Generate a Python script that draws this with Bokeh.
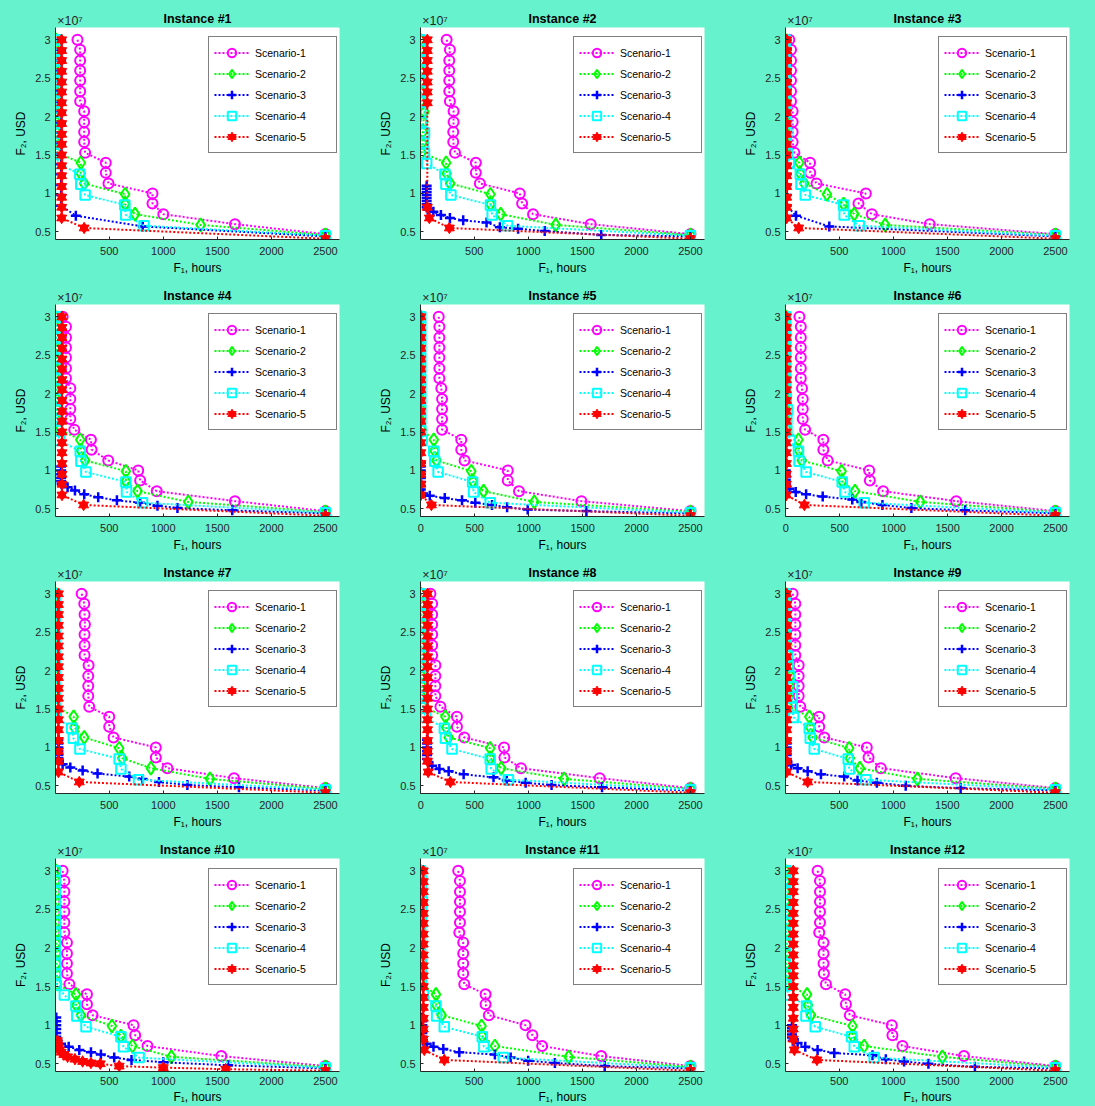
from bokeh.plotting import figure
from bokeh.layouts import gridplot
from bokeh.models import Legend, LegendItem, FixedTicker, Range1d, LinearAxis
from bokeh.embed import file_html
from bokeh.resources import INLINE

SCENARIOS = ["Scenario-1", "Scenario-2", "Scenario-3", "Scenario-4", "Scenario-5"]
X_TICKS = [0, 500, 1000, 1500, 2000, 2500]
Y_TICKS = [0.5, 1, 1.5, 2, 2.5, 3]
Y_TICK_LABELS = ["0.5", "1", "1.5", "2", "2.5", "3"]
X_LABEL = "F\u2081, hours"
Y_LABEL = "F\u2082, USD"
Y_EXPONENT = "\u00d710\u2077"

# F2 levels (x 10^7 USD) per scenario
Y_S1 = [3.0, 2.87, 2.73, 2.6, 2.47, 2.33, 2.2, 2.07, 1.93, 1.8, 1.67, 1.53, 1.4, 1.27, 1.13, 1.0, 0.87, 0.73, 0.6, 0.47]
Y_S2 = [3.0, 2.87, 2.73, 2.6, 2.46, 2.33, 2.2, 2.06, 1.93, 1.8, 1.66, 1.53, 1.4, 1.26, 1.13, 0.99, 0.86, 0.73, 0.59, 0.46]
Y_S3 = [3.0, 2.87, 2.73, 2.6, 2.46, 2.33, 2.19, 2.06, 1.92, 1.79, 1.65, 1.52, 1.38, 1.25, 1.11, 0.98, 0.84, 0.71, 0.57, 0.44]
Y_S4 = [3.0, 2.87, 2.73, 2.6, 2.46, 2.33, 2.19, 2.06, 1.93, 1.79, 1.66, 1.52, 1.39, 1.25, 1.12, 0.98, 0.85, 0.72, 0.58, 0.45]
Y_S5 = [3.0, 2.86, 2.73, 2.59, 2.45, 2.32, 2.18, 2.05, 1.91, 1.77, 1.64, 1.5, 1.36, 1.23, 1.09, 0.95, 0.82, 0.68, 0.55, 0.41]

# ---- Instance 1 (F1 hours)
I1_S1_X = [206, 231, 231, 231, 231, 231, 231, 268, 268, 268, 268, 277, 468, 468, 493, 900, 900, 1000, 1663, 2500]
I1_S2_X = [6, 8, 8, 6, 6, 8, 8, 10, 10, 10, 12, 15, 237, 237, 268, 647, 647, 739, 1346, 2500]
I1_S3_X = [55, 55, 55, 55, 55, 55, 55, 55, 55, 55, 55, 55, 55, 55, 55, 55, 55, 191, 810, 2500]
I1_S3_Y = Y_S3
I1_S4_X = [15, 15, 20, 15, 15, 15, 15, 20, 20, 20, 20, 20, 25, 228, 237, 277, 644, 653, 822, 2500]
I1_S5_X = [60, 60, 60, 60, 60, 60, 60, 60, 60, 60, 60, 60, 60, 60, 60, 60, 60, 60, 268, 2500]
I1_S5_Y = Y_S5
# ---- Instance 2
I2_S1_X = [245, 275, 269, 269, 269, 269, 275, 309, 309, 306, 306, 322, 515, 515, 552, 921, 943, 1044, 1577, 2500]
I2_S2_X = [0, 3, 5, 5, 5, 8, 10, 40, 30, 25, 20, 15, 240, 245, 277, 650, 650, 745, 1254, 2500]
I2_S3_X = [60, 60, 60, 60, 60, 60, 60, 60, 70, 122, 192, 275, 398, 614, 737, 906, 1152, 1675, 2500]
I2_S3_Y = [1.1, 1.06, 1.02, 0.98, 0.94, 0.9, 0.86, 0.82, 0.79, 0.76, 0.72, 0.68, 0.65, 0.62, 0.56, 0.54, 0.51, 0.46, 0.44]
I2_S4_X = [0, 3, 3, 3, 3, 5, 5, 5, 10, 40, 30, 40, 60, 229, 238, 284, 650, 666, 808, 2500]
I2_S5_X = [66, 66, 66, 66, 66, 66, 66, 66, 85, 270, 2500]
I2_S5_Y = [3.0, 2.86, 2.73, 2.59, 2.45, 2.32, 2.18, 0.82, 0.68, 0.55, 0.41]
# ---- Instance 3
I3_S1_X = [38, 54, 54, 54, 54, 54, 54, 69, 69, 69, 69, 85, 230, 232, 290, 746, 678, 802, 1337, 2500]
I3_S2_X = [0, 0, 0, 0, 0, 0, 3, 3, 3, 5, 5, 10, 131, 140, 177, 386, 540, 639, 925, 2500]
I3_S3_X = [14, 14, 14, 14, 14, 14, 14, 14, 14, 14, 14, 14, 14, 14, 14, 14, 14, 100, 408, 2500]
I3_S3_Y = Y_S3
I3_S4_X = [0, 0, 0, 2, 2, 5, 10, 10, 12, 15, 10, 20, 38, 140, 146, 186, 540, 546, 685, 2500]
I3_S5_X = [14, 14, 14, 14, 14, 14, 14, 14, 14, 14, 14, 14, 14, 14, 14, 14, 14, 14, 125, 2500]
I3_S5_Y = Y_S5
# ---- Instance 4
I4_S1_X = [69, 100, 100, 100, 100, 100, 100, 140, 140, 140, 140, 177, 331, 337, 491, 768, 786, 940, 1663, 2500]
I4_S2_X = [0, 3, 5, 8, 10, 10, 10, 12, 12, 15, 15, 40, 232, 238, 277, 654, 654, 762, 1232, 2500]
I4_S3_X = [55, 55, 55, 55, 55, 60, 115, 183, 269, 398, 571, 786, 946, 1131, 1638, 2500]
I4_S3_Y = [1.05, 1.0, 0.95, 0.9, 0.86, 0.82, 0.78, 0.74, 0.69, 0.65, 0.61, 0.58, 0.54, 0.51, 0.48, 0.44]
I4_S4_X = [5, 5, 5, 3, 3, 3, 3, 3, 5, 5, 10, 20, 40, 232, 238, 284, 654, 660, 808, 2500]
I4_S5_X = [63, 63, 63, 63, 63, 63, 63, 63, 63, 63, 63, 63, 63, 63, 63, 63, 63, 63, 263, 2500]
I4_S5_Y = Y_S5
# ---- Instance 5
I5_S1_X = [166, 172, 172, 172, 172, 172, 172, 190, 197, 197, 197, 197, 375, 375, 406, 806, 806, 910, 1489, 2500]
I5_S2_X = [0, 0, 0, 0, 0, 0, 0, 0, 0, 0, 0, 10, 120, 126, 145, 468, 483, 582, 1052, 2500]
I5_S3_X = [0, 0, 0, 0, 0, 0, 0, 0, 20, 83, 222, 382, 505, 660, 800, 991, 1535, 2500]
I5_S3_Y = [1.1, 1.05, 1.0, 0.95, 0.9, 0.85, 0.8, 0.75, 0.7, 0.67, 0.64, 0.61, 0.58, 0.55, 0.52, 0.49, 0.47, 0.44]
I5_S4_X = [0, 0, 0, 0, 0, 0, 0, 0, 0, 0, 0, 0, 12, 120, 129, 160, 480, 489, 643, 2500]
I5_S5_X = [0, 0, 0, 0, 0, 0, 0, 0, 0, 0, 0, 0, 0, 0, 0, 0, 0, 0, 98, 2500]
I5_S5_Y = Y_S5
# ---- Instance 6
I6_S1_X = [126, 139, 139, 139, 139, 139, 139, 150, 157, 157, 157, 179, 348, 348, 388, 773, 779, 902, 1580, 2500]
I6_S2_X = [0, 0, 0, 0, 0, 0, 0, 0, 0, 0, 0, 10, 117, 123, 148, 517, 523, 641, 1247, 2500]
I6_S3_X = [0, 0, 0, 0, 0, 5, 34, 92, 188, 342, 616, 700, 896, 1164, 1663, 2500]
I6_S3_Y = [1.0, 0.96, 0.92, 0.88, 0.84, 0.8, 0.76, 0.72, 0.69, 0.66, 0.62, 0.59, 0.55, 0.51, 0.48, 0.44]
I6_S4_X = [0, 0, 0, 0, 0, 0, 0, 0, 5, 15, 10, 10, 40, 117, 123, 188, 523, 548, 727, 2500]
I6_S5_X = [5, 5, 5, 5, 5, 5, 5, 5, 5, 5, 5, 5, 5, 5, 5, 5, 5, 5, 172, 2500]
I6_S5_Y = Y_S5
# ---- Instance 7
I7_S1_X = [245, 269, 272, 275, 272, 272, 272, 309, 306, 306, 306, 315, 500, 500, 540, 931, 931, 1038, 1654, 2500]
I7_S2_X = [0, 0, 0, 0, 0, 0, 0, 5, 10, 10, 10, 15, 171, 178, 269, 592, 620, 885, 1432, 2500]
I7_S3_X = [30, 30, 30, 30, 30, 30, 30, 69, 140, 254, 392, 685, 808, 960, 1223, 1700, 2500]
I7_S3_Y = [1.1, 1.05, 1.0, 0.95, 0.9, 0.86, 0.82, 0.78, 0.74, 0.7, 0.66, 0.62, 0.59, 0.55, 0.51, 0.48, 0.44]
I7_S4_X = [0, 0, 0, 0, 0, 0, 0, 0, 0, 0, 0, 0, 10, 152, 168, 229, 592, 608, 771, 2500]
I7_S5_X = [30, 30, 30, 30, 30, 30, 30, 30, 30, 30, 30, 30, 30, 30, 30, 30, 30, 30, 223, 2500]
I7_S5_Y = Y_S5
# ---- Instance 8
I8_S1_X = [89, 105, 105, 105, 105, 105, 105, 135, 135, 135, 135, 182, 335, 335, 403, 772, 775, 929, 1658, 2500]
I8_S2_X = [0, 3, 5, 5, 5, 5, 5, 5, 8, 10, 10, 20, 228, 235, 258, 643, 643, 745, 1329, 2500]
I8_S3_X = [58, 58, 58, 58, 58, 58, 70, 105, 172, 258, 397, 674, 797, 972, 1212, 1680, 2500]
I8_S3_Y = [1.1, 1.05, 1.0, 0.95, 0.9, 0.85, 0.8, 0.76, 0.72, 0.69, 0.65, 0.61, 0.57, 0.54, 0.51, 0.48, 0.44]
I8_S4_X = [0, 0, 3, 3, 3, 3, 5, 5, 5, 5, 10, 20, 43, 218, 228, 289, 643, 652, 812, 2500]
I8_S5_X = [62, 62, 62, 62, 62, 62, 62, 62, 62, 62, 62, 62, 62, 62, 62, 62, 62, 68, 274, 2500]
I8_S5_Y = Y_S5
# ---- Instance 9
I9_S1_X = [69, 94, 94, 94, 94, 94, 94, 125, 125, 125, 125, 140, 315, 315, 362, 755, 771, 885, 1577, 2500]
I9_S2_X = [0, 3, 5, 10, 15, 20, 30, 38, 48, 40, 35, 30, 223, 232, 254, 592, 598, 691, 1223, 2500]
I9_S3_X = [14, 14, 14, 14, 14, 14, 20, 54, 115, 208, 331, 546, 669, 848, 1115, 1623, 2500]
I9_S3_Y = [1.1, 1.05, 1.0, 0.95, 0.9, 0.85, 0.81, 0.77, 0.73, 0.69, 0.65, 0.62, 0.57, 0.54, 0.5, 0.47, 0.44]
I9_S4_X = [0, 0, 0, 3, 5, 10, 20, 30, 40, 69, 66, 63, 78, 223, 232, 269, 583, 592, 746, 2500]
I9_S5_X = [14, 14, 14, 14, 14, 14, 14, 14, 14, 14, 14, 14, 14, 14, 14, 14, 14, 14, 208, 2500]
I9_S5_Y = Y_S5
# ---- Instance 10
I10_S1_X = [69, 85, 85, 85, 85, 85, 85, 109, 109, 109, 109, 131, 294, 294, 346, 725, 740, 854, 1537, 2500]
I10_S2_X = [8, 10, 10, 10, 10, 10, 10, 10, 12, 12, 15, 20, 192, 195, 238, 525, 608, 715, 1075, 2500]
I10_S3_X = [10, 10, 10, 10, 10, 10, 20, 54, 125, 223, 331, 423, 546, 706, 1000, 1600, 2500]
I10_S3_Y = [1.1, 1.05, 1.0, 0.95, 0.9, 0.85, 0.8, 0.76, 0.72, 0.68, 0.65, 0.62, 0.58, 0.55, 0.52, 0.48, 0.44]
I10_S4_X = [0, 0, 0, 0, 0, 0, 0, 0, 3, 3, 5, 10, 85, 192, 200, 285, 608, 632, 777, 2500]
I10_S5_X = [20, 22, 25, 30, 40, 55, 80, 115, 183, 254, 331, 417, 592, 1000, 1577, 2500]
I10_S5_Y = [0.8, 0.77, 0.74, 0.71, 0.68, 0.65, 0.62, 0.59, 0.56, 0.53, 0.51, 0.5, 0.47, 0.45, 0.43, 0.41]
# ---- Instance 11
I11_S1_X = [352, 368, 368, 368, 368, 368, 362, 398, 398, 398, 398, 408, 605, 605, 635, 974, 1038, 1128, 1675, 2500]
I11_S2_X = [0, 0, 0, 0, 0, 0, 0, 0, 0, 0, 0, 15, 146, 150, 198, 568, 574, 691, 1374, 2500]
I11_S3_X = [20, 20, 20, 20, 20, 20, 25, 60, 123, 214, 362, 691, 837, 999, 1246, 1707, 2500]
I11_S3_Y = [1.1, 1.05, 1.0, 0.95, 0.9, 0.85, 0.8, 0.76, 0.72, 0.69, 0.65, 0.62, 0.58, 0.54, 0.51, 0.47, 0.44]
I11_S4_X = [5, 14, 12, 20, 15, 10, 5, 5, 5, 10, 10, 15, 30, 146, 152, 223, 574, 589, 768, 2500]
I11_S5_X = [29, 29, 29, 29, 29, 29, 29, 29, 29, 29, 29, 29, 29, 29, 29, 29, 29, 38, 223, 2500]
I11_S5_Y = Y_S5
# ---- Instance 12
I12_S1_X = [300, 322, 322, 322, 322, 322, 315, 355, 355, 355, 358, 377, 555, 562, 598, 986, 992, 1085, 1654, 2500]
I12_S2_X = [0, 0, 0, 0, 3, 5, 10, 15, 15, 12, 10, 10, 202, 210, 238, 623, 623, 731, 1454, 2500]
I12_S3_X = [63, 63, 63, 63, 63, 70, 115, 186, 300, 454, 808, 931, 1100, 1325, 1755, 2500]
I12_S3_Y = [1.0, 0.96, 0.92, 0.88, 0.84, 0.8, 0.77, 0.72, 0.68, 0.64, 0.61, 0.56, 0.53, 0.5, 0.46, 0.44]
I12_S4_X = [8, 8, 5, 5, 10, 8, 5, 5, 3, 3, 5, 10, 30, 198, 192, 278, 614, 639, 823, 2500]
I12_S5_X = [75, 75, 75, 75, 75, 75, 75, 75, 75, 75, 75, 75, 75, 75, 75, 75, 75, 85, 294, 2500]
I12_S5_Y = Y_S5

SHOW_ZERO = [5, 6, 8]

PANELS = [
    (1, [(I1_S1_X, Y_S1), (I1_S2_X, Y_S2), (I1_S3_X, I1_S3_Y), (I1_S4_X, Y_S4), (I1_S5_X, I1_S5_Y)]),
    (2, [(I2_S1_X, Y_S1), (I2_S2_X, Y_S2), (I2_S3_X, I2_S3_Y), (I2_S4_X, Y_S4), (I2_S5_X, I2_S5_Y)]),
    (3, [(I3_S1_X, Y_S1), (I3_S2_X, Y_S2), (I3_S3_X, I3_S3_Y), (I3_S4_X, Y_S4), (I3_S5_X, I3_S5_Y)]),
    (4, [(I4_S1_X, Y_S1), (I4_S2_X, Y_S2), (I4_S3_X, I4_S3_Y), (I4_S4_X, Y_S4), (I4_S5_X, I4_S5_Y)]),
    (5, [(I5_S1_X, Y_S1), (I5_S2_X, Y_S2), (I5_S3_X, I5_S3_Y), (I5_S4_X, Y_S4), (I5_S5_X, I5_S5_Y)]),
    (6, [(I6_S1_X, Y_S1), (I6_S2_X, Y_S2), (I6_S3_X, I6_S3_Y), (I6_S4_X, Y_S4), (I6_S5_X, I6_S5_Y)]),
    (7, [(I7_S1_X, Y_S1), (I7_S2_X, Y_S2), (I7_S3_X, I7_S3_Y), (I7_S4_X, Y_S4), (I7_S5_X, I7_S5_Y)]),
    (8, [(I8_S1_X, Y_S1), (I8_S2_X, Y_S2), (I8_S3_X, I8_S3_Y), (I8_S4_X, Y_S4), (I8_S5_X, I8_S5_Y)]),
    (9, [(I9_S1_X, Y_S1), (I9_S2_X, Y_S2), (I9_S3_X, I9_S3_Y), (I9_S4_X, Y_S4), (I9_S5_X, I9_S5_Y)]),
    (10, [(I10_S1_X, Y_S1), (I10_S2_X, Y_S2), (I10_S3_X, I10_S3_Y), (I10_S4_X, Y_S4), (I10_S5_X, I10_S5_Y)]),
    (11, [(I11_S1_X, Y_S1), (I11_S2_X, Y_S2), (I11_S3_X, I11_S3_Y), (I11_S4_X, Y_S4), (I11_S5_X, I11_S5_Y)]),
    (12, [(I12_S1_X, Y_S1), (I12_S2_X, Y_S2), (I12_S3_X, I12_S3_Y), (I12_S4_X, Y_S4), (I12_S5_X, I12_S5_Y)]),
]

BG = "#66F2CC"
AX = "#262626"
FONT = "Liberation Sans"
COLORS = ["#FF00FF", "#00FF00", "#0000FF", "#00FFFF", "#FF0000"]

W = 365
ML, MR, MT = 55, 26, 27
FW = W - ML - MR
FH = 213
X_END = 2630
Y_START, Y_END = 0.40, 3.16


def make_panel(num, series):
    last_row = num > 9
    h = 275 if last_row else 277
    mb = h - MT - FH
    x0 = -3 if num in SHOW_ZERO else 3
    p = figure(width=W, height=h, output_backend="svg", toolbar_location=None,
               x_range=Range1d(x0, X_END), y_range=Range1d(Y_START, Y_END),
               min_border_left=ML, min_border_right=MR, min_border_top=MT, min_border_bottom=mb)
    p.background_fill_color = "white"
    p.border_fill_color = BG
    p.outline_line_color = None
    p.xgrid.visible = False
    p.ygrid.visible = False
    p.title.visible = False

    p.xaxis.ticker = FixedTicker(ticks=X_TICKS)
    p.yaxis.ticker = FixedTicker(ticks=Y_TICKS)
    p.yaxis.major_label_overrides = {t: l for t, l in zip(Y_TICKS, Y_TICK_LABELS)}
    for ax in (p.xaxis, p.yaxis):
        ax.axis_line_color = AX
        ax.major_tick_line_color = AX
        ax.major_tick_in = 3
        ax.major_tick_out = 0
        ax.minor_tick_line_color = None
        ax.major_label_text_font = FONT
        ax.major_label_text_font_size = "11px"
        ax.major_label_text_color = AX
        ax.axis_label_text_font = FONT
        ax.axis_label_text_font_size = "12px"
        ax.axis_label_text_font_style = "normal"
        ax.axis_label_text_color = "black"
    p.xaxis.major_label_standoff = 5 if last_row else 7
    p.yaxis.major_label_standoff = 5
    p.xaxis.axis_label = X_LABEL
    p.xaxis.axis_label_standoff = 2 if last_row else 3
    p.yaxis.axis_label = Y_LABEL
    p.yaxis.axis_label_standoff = 4

    # top: exponent marker (as a tick label) and the panel title (as the axis label)
    x_exp = x0 + 14.5 * (X_END - x0) / FW
    top = LinearAxis(ticker=FixedTicker(ticks=[x_exp]), major_label_overrides={x_exp: Y_EXPONENT},
                     axis_line_color=None, major_tick_line_color=None, minor_tick_line_color=None,
                     major_tick_in=0, major_tick_out=0, major_label_standoff=0,
                     major_label_text_font=FONT, major_label_text_font_size="12.5px",
                     major_label_text_color=AX,
                     axis_label=f"Instance #{num}", axis_label_text_font=FONT,
                     axis_label_text_font_size="12.5px", axis_label_text_font_style="bold",
                     axis_label_text_color="black", axis_label_standoff=-15)
    p.add_layout(top, "above")

    items = []
    for k, (xs, ys) in enumerate(series):
        c = COLORS[k]
        rl = p.line(xs, ys, line_color=c, line_width=2, line_dash="2 2")
        rends = [rl]
        if k == 0:
            rends.append(p.scatter(xs, ys, marker="circle", size=10, line_color=c, fill_color=None, line_width=2))
        elif k == 1:
            rends.append(p.scatter(xs, ys, marker="diamond", size=13, line_color=c, fill_color=None, line_width=2))
        elif k == 2:
            rends.append(p.scatter(xs, ys, marker="cross", size=10, line_color=c, line_width=2.5))
        elif k == 3:
            rends.append(p.scatter(xs, ys, marker="square", size=9.5, line_color=c, fill_color=None, line_width=2))
        else:
            rends.append(p.scatter(xs, ys, marker="triangle", size=10, line_color=c, fill_color=c, line_width=1))
            rends.append(p.scatter(xs, ys, marker="inverted_triangle", size=10, line_color=c, fill_color=c, line_width=1))
        items.append(LegendItem(label=SCENARIOS[k], renderers=rends))

    lw, lh = 127, 115
    legend = Legend(items=items, location=(FW - 4 - lw, FH - 12 - lh),
                    border_line_color="black", border_line_width=1,
                    background_fill_color="white", background_fill_alpha=1.0,
                    label_text_font=FONT, label_text_font_size="10.5px", label_text_color="black",
                    glyph_width=35, glyph_height=21, label_height=21, label_width=76,
                    label_standoff=6, spacing=0, padding=5, margin=0)
    p.add_layout(legend)
    return p


figs = [make_panel(num, series) for num, series in PANELS]
grid = gridplot(figs, ncols=3, toolbar_location=None)
grid.styles = {"background-color": BG}

open("out.html", "w").write(file_html(grid, INLINE))
